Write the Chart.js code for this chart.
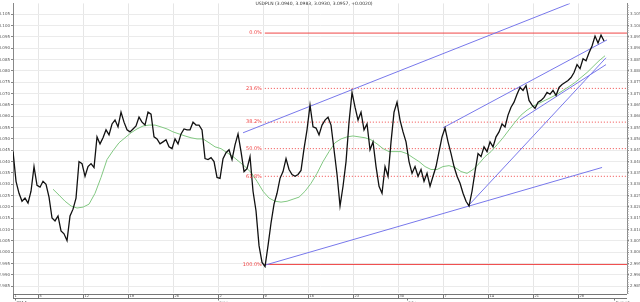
<!DOCTYPE html>
<html><head><meta charset="utf-8">
<script src="https://cdn.jsdelivr.net/npm/chart.js@4.4.1/dist/chart.umd.min.js"></script>
<style>html,body{margin:0;padding:0;background:#fff;overflow:hidden}#w{width:640px;height:302px;position:relative}</style>
</head><body><div id="w"><canvas id="c" width="640" height="302"></canvas></div>
<script>
// ---------- data (x in trading days from 1 May 2014, y = price) ----------
const titleText = "USDPLN (3.0940, 3.0983, 3.0930, 3.0957, +0.0020)";
const xMin = -0.78, xMax = 67.44;
const yMin = 2.9820, yMax = 3.1098;
const yTicks = [2.985,2.990,2.995,3.000,3.005,3.010,3.015,3.020,3.025,3.030,3.035,3.040,3.045,3.050,3.055,3.060,3.065,3.070,3.075,3.080,3.085,3.090,3.095,3.100,3.105];
const weekTicks = [2,7,12,17,22,27,32,37,42,47,52,57,62];
const weekTickLabels = ["5","12","19","26","2","9","16","23","30","7","14","21","28"];
const monthTicks = [-0.6,22,43,66];
const monthLabels = ["2014","June","July","August"];

const priceStart = -0.778, priceStep = 1/3;
const price = [
3.0444,3.0313,3.0260,3.0225,3.0239,3.0217,3.0269,3.0378,3.0295,3.0287,
3.0313,3.0300,3.0243,3.0151,3.0138,3.0160,3.0094,3.0081,3.0051,3.0160,
3.0190,3.0239,3.0400,3.0391,3.0335,3.0378,3.0391,3.0374,3.0509,3.0478,
3.0505,3.0540,3.0518,3.0566,3.0583,3.0553,3.0618,3.0574,3.0540,3.0531,
3.0544,3.0557,3.0596,3.0574,3.0561,3.0618,3.0609,3.0509,3.0500,3.0478,
3.0487,3.0496,3.0465,3.0457,3.0500,3.0478,3.0522,3.0544,3.0540,3.0540,
3.0574,3.0561,3.0561,3.0540,3.0413,3.0409,3.0417,3.0400,3.0330,3.0326,
3.0413,3.0439,3.0452,3.0409,3.0474,3.0522,3.0444,3.0356,3.0369,3.0422,
3.0269,3.0182,3.0029,2.9955,2.9937,3.0029,3.0129,3.0212,3.0260,3.0326,
3.0356,3.0413,3.0365,3.0343,3.0335,3.0343,3.0361,3.0457,3.0540,3.0649,
3.0553,3.0548,3.0518,3.0561,3.0583,3.0596,3.0561,3.0452,3.0343,3.0204,
3.0291,3.0400,3.0574,3.0705,3.0640,3.0583,3.0618,3.0540,3.0566,3.0452,
3.0487,3.0378,3.0291,3.0260,3.0378,3.0335,3.0487,3.0618,3.0662,3.0583,
3.0531,3.0487,3.0400,3.0348,3.0378,3.0335,3.0365,3.0313,3.0348,3.0291,
3.0335,3.0378,3.0444,3.0509,3.0548,3.0487,3.0435,3.0378,3.0335,3.0304,
3.0260,3.0225,3.0204,3.0269,3.0356,3.0435,3.0422,3.0465,3.0444,3.0487,
3.0465,3.0509,3.0531,3.0566,3.0553,3.0605,3.0640,3.0662,3.0697,3.0727,
3.0714,3.0736,3.0670,3.0649,3.0635,3.0662,3.0670,3.0683,3.0705,3.0697,
3.0714,3.0692,3.0727,3.0740,3.0749,3.0758,3.0771,3.0793,3.0828,3.0810,
3.0854,3.0845,3.0880,3.0910,3.0954,3.0923,3.0958,3.0932
];

const maStart = 3.667, maStep = 2/3;
const movingAvg = [
3.0278,3.0252,3.0225,3.0204,3.0195,3.0199,3.0212,3.0260,3.0330,3.0409,
3.0448,3.0483,3.0505,3.0527,3.0544,3.0557,3.0561,3.0561,3.0553,3.0544,
3.0531,3.0522,3.0513,3.0505,3.0500,3.0500,3.0483,3.0465,3.0457,3.0439,
3.0422,3.0400,3.0378,3.0352,3.0313,3.0269,3.0239,3.0225,3.0221,3.0225,
3.0234,3.0243,3.0269,3.0304,3.0348,3.0400,3.0444,3.0483,3.0500,3.0509,
3.0513,3.0509,3.0505,3.0496,3.0478,3.0457,3.0444,3.0444,3.0444,3.0435,
3.0417,3.0400,3.0378,3.0365,3.0365,3.0378,3.0382,3.0374,3.0356,3.0348,
3.0365,3.0391,3.0422,3.0444,3.0474,3.0505,3.0540,3.0574,3.0605,3.0627,
3.0644,3.0657,3.0670,3.0683,3.0697,3.0714,3.0731,3.0749,3.0771,3.0793,
3.0819,3.0845,3.0867
];

const fibLabels = ["0.0%","23.6%","38.2%","50.0%","61.8%","100.0%"];
const fibValues = [3.0967,3.0723,3.0574,3.0457,3.0335,2.9946];
const fibStart = 27.2;

const trendStarts = [[24.78,3.0527],[27.22,2.9943],[47.00,3.0549],[49.78,3.0204],[55.56,3.0584]];
const trendEnds   = [[61.11,3.1098],[64.67,3.0374],[65.22,3.0937],[65.11,3.0858],[65.11,3.0828]];

// ---------- chart ----------
const RED = 'rgb(240,70,70)', BLUE = 'rgb(120,120,235)', GREEN = 'rgb(130,200,130)';
const datasets = [];
datasets.push({data: price.map((v,i)=>({x: priceStart + i*priceStep, y: v})), borderColor:'#111', borderWidth:1.3});
datasets.push({data: movingAvg.map((v,i)=>({x: maStart + i*maStep, y: v})), borderColor:GREEN, borderWidth:1});
trendStarts.forEach((s,i)=>datasets.push({data:[{x:s[0],y:s[1]},{x:trendEnds[i][0],y:trendEnds[i][1]}], borderColor:BLUE, borderWidth:1}));
fibValues.forEach((v,i)=>datasets.push({data:[{x:fibStart,y:v},{x:xMax,y:v}], borderColor:RED, borderWidth:1,
  borderDash: (i===0||i===fibValues.length-1)?[]:[1,2]}));
datasets.forEach(d=>{d.pointRadius=0; d.tension=0; d.fill=false; d.yAxisID='y';});

const F = 'DejaVu Sans';
function yAxis(pos){
  return {
    type:'linear', position:pos, min:yMin, max:yMax,
    afterBuildTicks: s => { s.ticks = yTicks.map(v=>({value:v})); },
    afterFit: s => { s.width = 13; },
    ticks:{font:{size:4,family:F}, color:'#555', padding:1, autoSkip:false, callback: v => Number(v).toFixed(3)},
    grid:{drawOnChartArea: pos==='left', color:'#ebebeb', tickLength:2, tickColor:'#888', lineWidth:1},
    border:{display:true, color:'#888'}
  };
}

const overlay = {
  id:'overlay',
  afterDatasetsDraw(chart){
    const ctx = chart.ctx, xs = chart.scales.x, ys = chart.scales.y, ca = chart.chartArea;
    ctx.save();
    ctx.font = '5px "'+F+'"'; ctx.fillStyle = RED; ctx.textAlign='right'; ctx.textBaseline='middle';
    fibValues.forEach((v,i)=>ctx.fillText(fibLabels[i], xs.getPixelForValue(fibStart)-3, ys.getPixelForValue(v)));
    ctx.font = '4.5px "'+F+'"'; ctx.fillStyle = '#333'; ctx.textAlign='center'; ctx.textBaseline='middle';
    ctx.fillText(titleText, (ca.left+ca.right)/2 - 6, 4);
    ctx.strokeStyle = '#999'; ctx.lineWidth = 1;
    for (let k = Math.ceil(yMin*1000); k <= Math.floor(yMax*1000); k++){
      const y = Math.round(ys.getPixelForValue(k/1000))+0.5;
      ctx.beginPath(); ctx.moveTo(ca.right, y); ctx.lineTo(ca.right+1.5, y); ctx.stroke();
    }
    const b0 = ca.bottom + 1.5, b1 = ca.bottom + 5.5;
    ctx.strokeStyle = '#777';
    ctx.beginPath(); ctx.moveTo(ca.left, b0); ctx.lineTo(ca.right, b0); ctx.moveTo(ca.left, b1); ctx.lineTo(ca.right, b1); ctx.stroke();
    ctx.font = '3.5px "'+F+'"'; ctx.fillStyle = '#444'; ctx.textAlign='left'; ctx.textBaseline='middle';
    const allTicks = [xMin].concat(weekTicks), allLabels = ["1"].concat(weekTickLabels);
    allTicks.forEach((t,i)=>{
      const x = Math.round(xs.getPixelForValue(t))+0.5;
      ctx.beginPath(); ctx.moveTo(x, b0); ctx.lineTo(x, b1); ctx.stroke();
      ctx.fillText(allLabels[i], x+1, (b0+b1)/2);
    });
    ctx.font = '4px "'+F+'"'; ctx.textBaseline='top';
    monthTicks.forEach((t,i)=>{
      const x = Math.round(xs.getPixelForValue(t))+0.5;
      ctx.beginPath(); ctx.moveTo(x, b1); ctx.lineTo(x, b1+2); ctx.stroke();
      ctx.fillText(monthLabels[i], x+1, b1+2);
    });
    ctx.restore();
  }
};

new Chart(document.getElementById('c'), {
  type:'line',
  data:{datasets},
  options:{
    responsive:false, animation:false, devicePixelRatio:1,
    layout:{padding:0},
    plugins:{legend:{display:false}, tooltip:{enabled:false}, title:{display:false}},
    scales:{
      x:{type:'linear', min:xMin, max:xMax,
         afterBuildTicks: s => { s.ticks = weekTicks.map(v=>({value:v})); },
         afterFit: s => { s.height = 9; },
         ticks:{display:false},
         grid:{color:'#e6e6e6', drawTicks:false},
         border:{display:false}},
      y: yAxis('left'),
      y2: yAxis('right')
    }
  },
  plugins:[overlay]
});
</script>
</body></html>
